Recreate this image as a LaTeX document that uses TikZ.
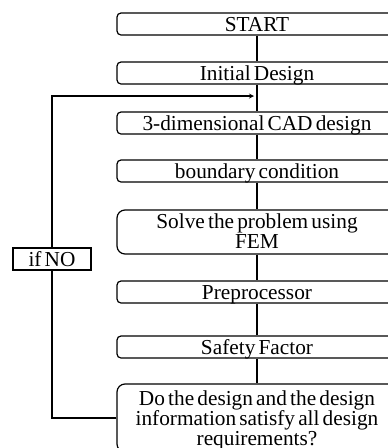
\documentclass[tikz,border=0pt]{standalone}
\usepackage{fontspec}
\setmainfont[WordSpace=0.6]{Liberation Serif}
\usetikzlibrary{positioning}

\begin{document}
\begin{tikzpicture}[x=1pt, y=-1pt, line width=1.2pt, >=stealth,
    font=\fontsize{21.3}{19.6}\selectfont]

    % Styles
    \tikzstyle{stepbox} = [draw, rounded corners=4pt, minimum width=280pt, minimum height=22pt, inner sep=0pt, align=center, text height=14pt, text depth=0pt]
    \tikzstyle{bigbox} = [stepbox, rounded corners=8pt]
    \tikzstyle{labelbox} = [draw, fill=white, minimum width=78pt, minimum height=22pt, inner sep=0pt, text height=14pt, text depth=0pt]
    \tikzstyle{link} = [draw]

    \useasboundingbox (0,0) rectangle (388,448);
    \clip (0,0) rectangle (388,448);

    % Steps
    \node[stepbox] (start) at (257,24) {START};
    \node[stepbox] (init) at (257,73) {Initial Design};
    \node[stepbox] (cad) at (257,123) {3-dimensional CAD design};
    \node[stepbox] (bc) at (257,171) {boundary condition};
    \node[bigbox, minimum height=44pt, text height=32pt] (fem) at (257,232) {Solve the problem using\\FEM};
    \node[stepbox] (pre) at (257,292) {Preprocessor};
    \node[stepbox] (sf) at (257,347) {Safety Factor};
    \node[bigbox, minimum height=68pt, text height=54pt] (dec) at (257,418) {Do the design and the design\\information satisfy all design\\requirements?};

    % Loop back
    \node[labelbox] (ifno) at (52,259) {if NO};
    \coordinate (back) at (254,96);

    % Connections
    \draw[link] (start) -- (init);
    \draw[link] (init) -- (cad);
    \draw[link] (cad) -- (bc);
    \draw[link] (bc) -- (fem);
    \draw[link] (fem) -- (pre);
    \draw[link] (pre) -- (sf);
    \draw[link] (sf) -- (dec);
    \draw[link] (dec.west) -| (ifno.south);
    \draw[link, ->] (ifno.north) |- (back);

\end{tikzpicture}
\end{document}
